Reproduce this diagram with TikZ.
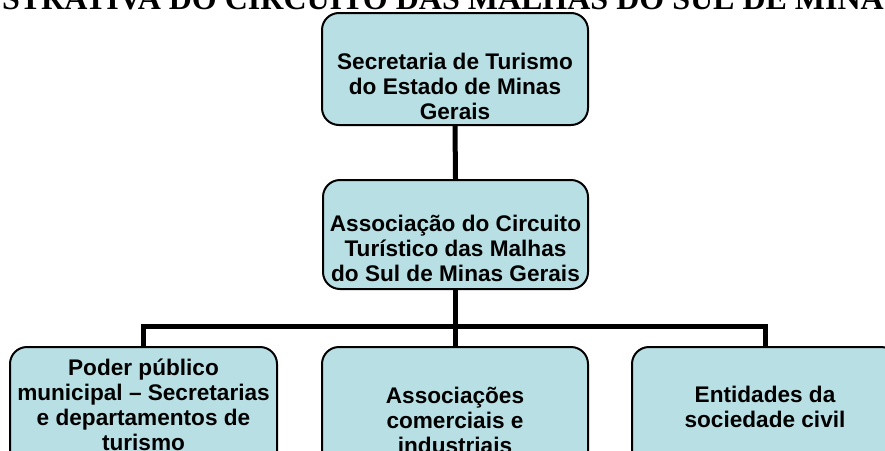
\documentclass[tikz,border=0pt]{standalone}
\usepackage{fontspec}
\setmainfont{Liberation Sans}
\newfontfamily\titlefont{Liberation Serif}
\definecolor{boxfill}{HTML}{B8E0E4}
\begin{document}
\begin{tikzpicture}[x=1pt,y=-1pt,
  orgbox/.style={draw=black, line width=2pt, fill=boxfill, rounded corners=17pt, inner sep=0pt},
  lbl/.style={font=\fontsize{22.6}{25}\selectfont\bfseries, align=center, inner sep=0pt},
  conn/.style={line width=5pt, line join=miter, line cap=butt}]
\useasboundingbox (0,0) rectangle (885,450);

% title (cut by page edges)
\node[font=\titlefont\fontsize{32}{36}\selectfont\bfseries, anchor=base, inner sep=0pt] (title) at (443,9)
  {STRATIVA DO CIRCUITO DAS MALHAS DO SUL DE MINA};

% coordinates for the connector bar
\coordinate (bar) at (455,326);

% connectors (drawn first, boxes cover their ends)
\node[orgbox, minimum width=266pt, minimum height=112pt] (top) at (455,69) {};
\node[orgbox, minimum width=265pt, minimum height=109pt] (mid) at (455.5,234.5) {};
\node[orgbox, minimum width=267pt, minimum height=123pt] (bl) at (143.5,408.5) {};
\node[orgbox, minimum width=266pt, minimum height=123pt] (bm) at (455,408.5) {};
\node[orgbox, minimum width=266pt, minimum height=123pt] (br) at (765,408.5) {};

\draw[conn] (top.south) -- (mid.north);
\draw[conn] (mid.south) -- (mid.south |- bar);
\draw[conn] (bl.north) |- (bar) -| (br.north);
\draw[conn] (bar) -- (bm.north);

% labels
\node[lbl] (ttop) at (455,86) {Secretaria de Turismo\\do Estado de Minas\\Gerais};
\node[lbl] (tmid) at (455.5,248) {Associação do Circuito\\Turístico das Malhas\\do Sul de Minas Gerais};
\node[lbl] (tbl) at (143.5,405) {Poder público\\municipal – Secretarias\\e departamentos de\\turismo};
\node[lbl] (tbm) at (455,420) {Associações\\comerciais e\\industriais};
\node[lbl] (tbr) at (765,407) {Entidades da\\sociedade civil};
\end{tikzpicture}
\end{document}
